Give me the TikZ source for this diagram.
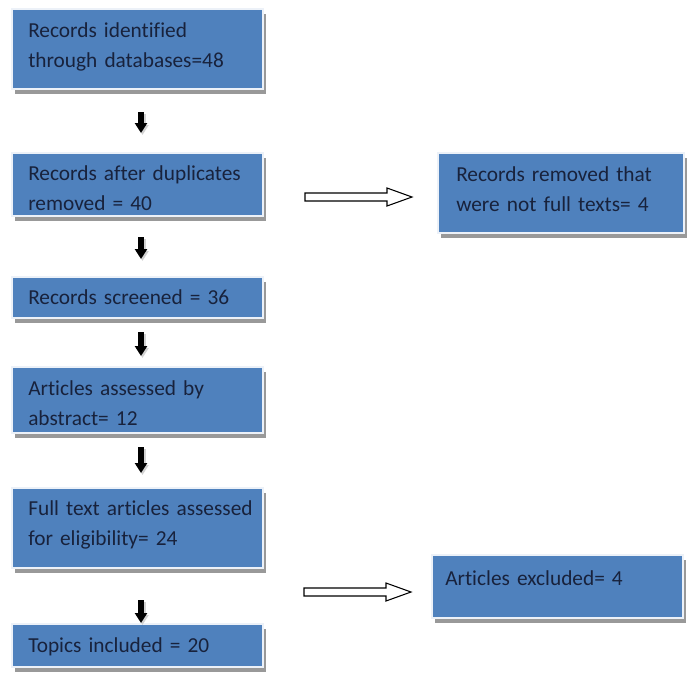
\documentclass[tikz,border=0pt]{standalone}
\usepackage{fontspec}
\setmainfont{Carlito}[Ligatures=NoCommon]
\usetikzlibrary{arrows.meta}
\usetikzlibrary{shadows}

\definecolor{boxblue}{RGB}{79,129,189}
\definecolor{boxtext}{RGB}{24,34,60}
\definecolor{boxrim}{RGB}{236,241,248}

\tikzset{
	box/.style={anchor=north west, fill=boxblue, draw=boxrim, line width=1.5pt, inner sep=0pt, outer sep=0pt, minimum width=188.25pt,
		drop shadow={shadow xshift=2.6pt, shadow yshift=-3.75pt, fill=gray!80, opacity=1}},
	boxtxt/.style={anchor=base west, inner sep=0pt, text width=185pt, align=left, text=boxtext, font=\fontsize{16pt}{22.5pt}\selectfont},
	down/.style={line width=4.5pt, -{Triangle[length=7.5pt, width=9pt]}},
	downshade/.style={down, draw=gray!35, fill=gray!35},
	hollow/.style={draw=black, fill=white, line width=0.8pt, line join=miter},
	hollow arrow/.pic={\draw[hollow] (0,-4) -- (82,-4) -- (82,-9) -- (107,0) -- (82,9) -- (82,4) -- (0,4) -- cycle;}
}

\begin{document}
\begin{tikzpicture}[x=0.75pt, y=-0.75pt]
	\useasboundingbox (0,0) rectangle (689,672);

	% left column
	\node [box, minimum height=60pt] (b1) at (12,9) {};
	\node [box, minimum height=47.25pt] (b2) at (12,153) {};
	\node [box, minimum height=30.75pt] (b3) at (12,277) {};
	\node [box, minimum height=49.5pt] (b4) at (12,367) {};
	\node [box, minimum height=60pt] (b5) at (12,488) {};
	\node [box, minimum height=32.25pt] (b6) at (12,624) {};

	\node [boxtxt] (t1) at ([shift={(16,28)}]b1.north west) {Records identified\\through databases=48};
	\node [boxtxt] (t2) at ([shift={(16,27)}]b2.north west) {Records after duplicates\\removed = 40};
	\node [boxtxt] (t3) at ([shift={(16,27)}]b3.north west) {Records screened = 36};
	\node [boxtxt] (t4) at ([shift={(16,28)}]b4.north west) {Articles assessed by\\abstract= 12};
	\node [boxtxt] (t5) at ([shift={(16,27)}]b5.north west) {Full text articles assessed\\for eligibility= 24};
	\node [boxtxt] (t6) at ([shift={(16,28)}]b6.north west) {Topics included = 20};

	% right column
	\node [box, minimum width=184.5pt, minimum height=60pt] (r1) at (438,153) {};
	\node [box, minimum height=47.25pt] (r2) at (432,555) {};
	\node [boxtxt] (s1) at ([shift={(18,28)}]r1.north west) {Records removed that\\were not full texts= 4};
	\node [boxtxt] (s2) at ([shift={(13,30)}]r2.north west) {Articles excluded= 4};

	% arrows down, with a faint shade
	\foreach \a/\b/\s/\e in {b1/b2/23/20, b2/b3/21/18, b3/b4/14/11, b4/b5/14/15, b5/b6/32/1} {
		\draw [downshade] ([shift={(5,\s+2)}]\a.south) -- ([shift={(5,-\e+2)}]\b.north);
		\draw [down] ([shift={(3.5,\s)}]\a.south) -- ([shift={(3.5,-\e)}]\b.north);
	}

	% arrows to the right
	\coordinate (h1) at (305,197);
	\coordinate (h2) at (304,592);
	\pic at (h1) {hollow arrow};
	\pic at (h2) {hollow arrow};
\end{tikzpicture}
\end{document}
